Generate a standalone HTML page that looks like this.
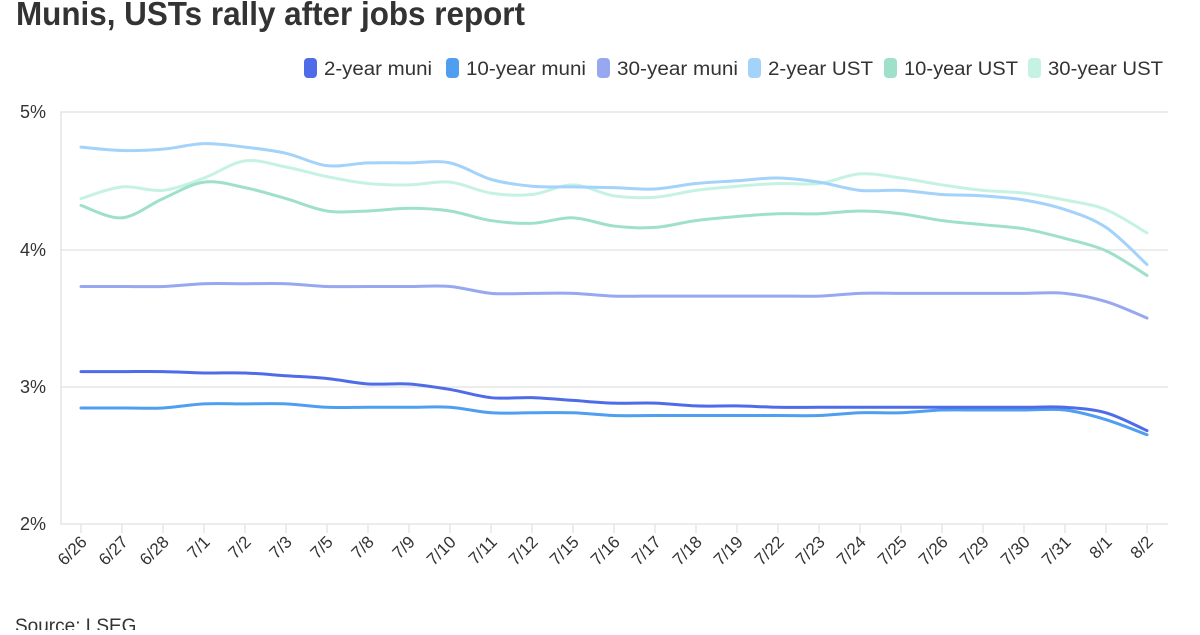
<!DOCTYPE html>
<html><head><meta charset="utf-8"><style>
html,body{margin:0;padding:0;background:#fff;}
body{width:1200px;height:630px;overflow:hidden;font-family:"Liberation Sans",sans-serif;}
</style></head><body>
<svg width="1200" height="630" xmlns="http://www.w3.org/2000/svg" font-family="Liberation Sans, sans-serif">
<text x="16" y="25" font-size="33" font-weight="bold" fill="#333" textLength="509" lengthAdjust="spacingAndGlyphs">Munis, USTs rally after jobs report</text>
<g font-size="19" fill="#333">
<rect x="304" y="58" width="13" height="20" rx="4" fill="#4f6ce8"/><text x="324" y="75" textLength="108" lengthAdjust="spacingAndGlyphs">2-year muni</text>
<rect x="446" y="58" width="13" height="20" rx="4" fill="#4f9ef0"/><text x="466" y="75" textLength="120" lengthAdjust="spacingAndGlyphs">10-year muni</text>
<rect x="597" y="58" width="13" height="20" rx="4" fill="#97a8f0"/><text x="617" y="75" textLength="121" lengthAdjust="spacingAndGlyphs">30-year muni</text>
<rect x="748" y="58" width="13" height="20" rx="4" fill="#a3d2fb"/><text x="768" y="75" textLength="105" lengthAdjust="spacingAndGlyphs">2-year UST</text>
<rect x="884" y="58" width="13" height="20" rx="4" fill="#9fe0cb"/><text x="904" y="75" textLength="114" lengthAdjust="spacingAndGlyphs">10-year UST</text>
<rect x="1028" y="58" width="13" height="20" rx="4" fill="#c6f2e3"/><text x="1048" y="75" textLength="115" lengthAdjust="spacingAndGlyphs">30-year UST</text>
</g>
<g stroke="#e6e6e6" stroke-width="1.5">
<line x1="60" y1="112" x2="1168" y2="112"/><line x1="60" y1="250" x2="1168" y2="250"/>
<line x1="60" y1="387" x2="1168" y2="387"/><line x1="60" y1="524" x2="1168" y2="524"/>
<line x1="61" y1="112" x2="61" y2="524"/>
</g>
<g font-size="18" fill="#333" text-anchor="end">
<text x="46" y="118">5%</text><text x="46" y="256">4%</text><text x="46" y="393">3%</text><text x="46" y="530">2%</text>
</g>
<g id="ticks" stroke="#e6e6e6" stroke-width="1.5"></g>
<g id="lines" fill="none" stroke-width="3" stroke-linejoin="round" stroke-linecap="round"></g>
<g font-size="17" fill="#333" text-anchor="end">
<text transform="translate(88,543) rotate(-45)">6/26</text>
<text transform="translate(129,543) rotate(-45)">6/27</text>
<text transform="translate(170,543) rotate(-45)">6/28</text>
<text transform="translate(211,543) rotate(-45)">7/1</text>
<text transform="translate(252,543) rotate(-45)">7/2</text>
<text transform="translate(293,543) rotate(-45)">7/3</text>
<text transform="translate(334,543) rotate(-45)">7/5</text>
<text transform="translate(375,543) rotate(-45)">7/8</text>
<text transform="translate(416,543) rotate(-45)">7/9</text>
<text transform="translate(457,543) rotate(-45)">7/10</text>
<text transform="translate(498,543) rotate(-45)">7/11</text>
<text transform="translate(539,543) rotate(-45)">7/12</text>
<text transform="translate(580,543) rotate(-45)">7/15</text>
<text transform="translate(621,543) rotate(-45)">7/16</text>
<text transform="translate(662,543) rotate(-45)">7/17</text>
<text transform="translate(703,543) rotate(-45)">7/18</text>
<text transform="translate(744,543) rotate(-45)">7/19</text>
<text transform="translate(785,543) rotate(-45)">7/22</text>
<text transform="translate(826,543) rotate(-45)">7/23</text>
<text transform="translate(867,543) rotate(-45)">7/24</text>
<text transform="translate(908,543) rotate(-45)">7/25</text>
<text transform="translate(949,543) rotate(-45)">7/26</text>
<text transform="translate(990,543) rotate(-45)">7/29</text>
<text transform="translate(1031,543) rotate(-45)">7/30</text>
<text transform="translate(1072,543) rotate(-45)">7/31</text>
<text transform="translate(1113,543) rotate(-45)">8/1</text>
<text transform="translate(1154,543) rotate(-45)">8/2</text>
</g>
<text x="15" y="632" font-size="19" fill="#333">Source: LSEG</text>
</svg>
<script>
var NS="http://www.w3.org/2000/svg";
function X(i){return 81+41*i;}
function Y(v){return 524-(v-2)*137.3;}
var t=document.getElementById("ticks");
for(var i=0;i<27;i++){var l=document.createElementNS(NS,"line");l.setAttribute("x1",X(i));l.setAttribute("x2",X(i));l.setAttribute("y1",524);l.setAttribute("y2",533);t.appendChild(l);}
var S=[
["#c6f2e3",[4.37,4.455,4.43,4.52,4.645,4.60,4.53,4.48,4.47,4.49,4.41,4.40,4.47,4.39,4.38,4.43,4.46,4.48,4.48,4.55,4.52,4.47,4.43,4.41,4.36,4.29,4.12]],
["#9fe0cb",[4.32,4.23,4.37,4.49,4.45,4.37,4.28,4.28,4.30,4.28,4.21,4.19,4.23,4.17,4.16,4.21,4.24,4.26,4.26,4.28,4.26,4.21,4.18,4.15,4.08,3.99,3.81]],
["#a3d2fb",[4.745,4.72,4.73,4.77,4.745,4.70,4.61,4.63,4.63,4.63,4.51,4.46,4.455,4.45,4.44,4.48,4.50,4.52,4.49,4.43,4.43,4.40,4.39,4.36,4.29,4.16,3.89]],
["#97a8f0",[3.73,3.73,3.73,3.75,3.75,3.75,3.73,3.73,3.73,3.73,3.68,3.68,3.68,3.66,3.66,3.66,3.66,3.66,3.66,3.68,3.68,3.68,3.68,3.68,3.68,3.62,3.50]],
["#4f9ef0",[2.845,2.845,2.845,2.875,2.875,2.875,2.85,2.85,2.85,2.85,2.81,2.81,2.81,2.79,2.79,2.79,2.79,2.79,2.79,2.81,2.81,2.83,2.83,2.83,2.83,2.76,2.65]],
["#4f6ce8",[3.11,3.11,3.11,3.10,3.10,3.08,3.06,3.02,3.02,2.98,2.92,2.92,2.90,2.88,2.88,2.86,2.86,2.85,2.85,2.85,2.85,2.85,2.85,2.85,2.85,2.81,2.68]]
];
var g=document.getElementById("lines");
S.forEach(function(s){
 var p=s[1].map(function(v,i){return [X(i),Y(v)];});
 var d="M"+p[0][0]+","+p[0][1];
 for(var i=0;i<p.length-1;i++){
  var p0=p[i-1]||p[i],p1=p[i],p2=p[i+1],p3=p[i+2]||p[i+1];
  var k=1/6;
  var c1=[p1[0]+(p2[0]-p0[0])*k,p1[1]+(p2[1]-p0[1])*k];
  var c2=[p2[0]-(p3[0]-p1[0])*k,p2[1]-(p3[1]-p1[1])*k];
  d+=" C"+c1[0]+","+c1[1]+" "+c2[0]+","+c2[1]+" "+p2[0]+","+p2[1];
 }
 var e=document.createElementNS(NS,"path");e.setAttribute("d",d);e.setAttribute("stroke",s[0]);g.appendChild(e);
});
</script>
</body></html>
